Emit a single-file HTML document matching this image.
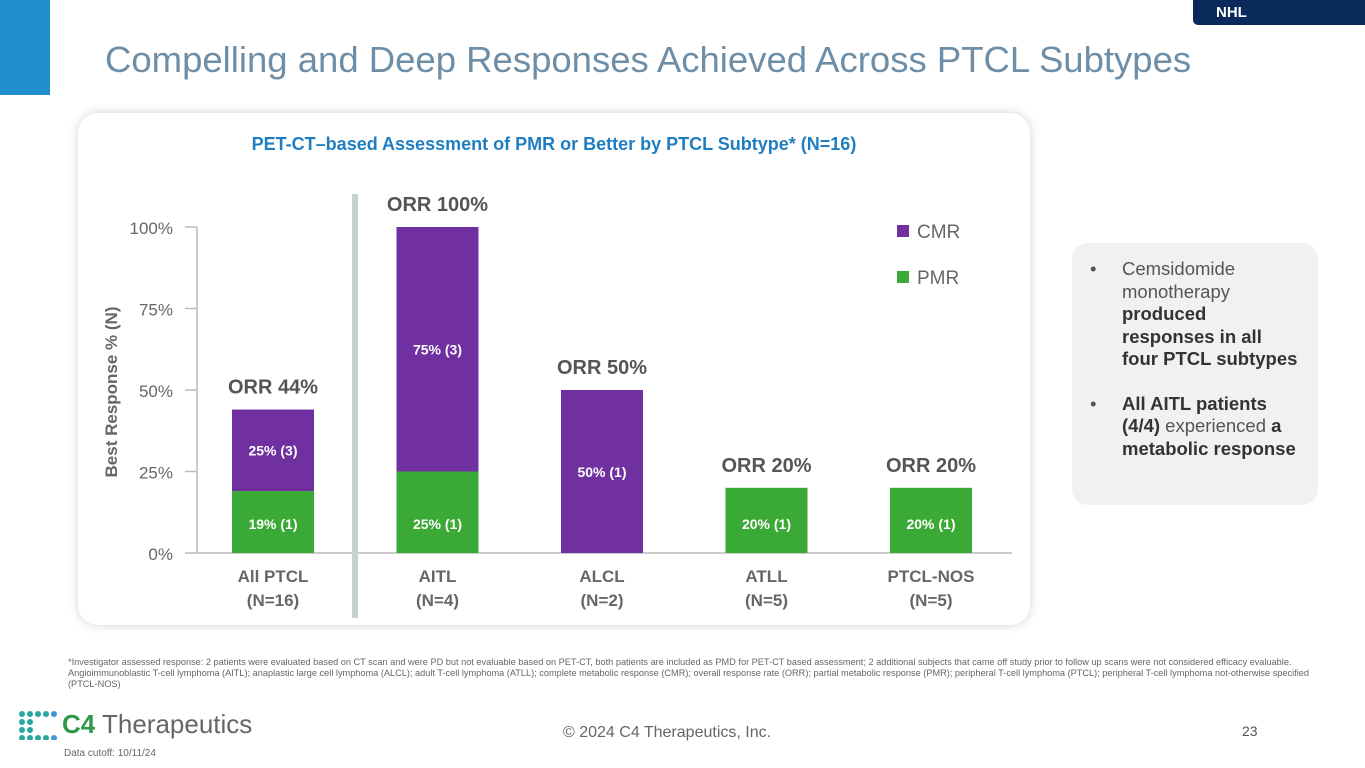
<!DOCTYPE html>
<html><head><meta charset="utf-8"><style>
body{margin:0;width:1365px;height:768px;position:relative;background:#fff;font-family:"Liberation Sans",sans-serif;overflow:hidden}
.abs{position:absolute}
</style></head><body>
<div class="abs" style="left:0;top:0;width:50px;height:95px;background:#1f8fd0"></div>
<div class="abs" style="left:1193px;top:0;width:172px;height:25px;background:#0b2a5c;border-radius:0 0 0 5px;color:#fff;font-weight:bold;font-size:15px;line-height:25px;padding-left:23px;box-sizing:border-box">NHL</div>
<div class="abs" style="left:105px;top:39px;font-size:36.5px;color:#6d8ea6;white-space:nowrap">Compelling and Deep Responses Achieved Across PTCL Subtypes</div>
<div class="abs" style="left:78px;top:113px;width:952px;height:512px;background:#fff;border-radius:20px;box-shadow:0 0 10px rgba(0,0,0,0.18)"></div>
<div class="abs" style="left:78px;top:134px;width:952px;text-align:center;font-size:18px;font-weight:bold;color:#1f7ec1">PET-CT–based Assessment of PMR or Better by PTCL Subtype* (N=16)</div>
<svg class="abs" style="left:0;top:0" width="1365" height="768" id="chart"></svg>
<div class="abs" style="left:1072px;top:243px;width:246px;height:262px;background:#f1f1f1;border-radius:16px"></div>
<div class="abs" style="left:1090px;top:258px;width:208px;font-size:18.5px;color:#555;line-height:22.5px">
<div style="display:flex"><span style="width:32px;flex:none">•</span><span>Cemsidomide monotherapy <b style="color:#333">produced responses in all four PTCL subtypes</b></span></div>
<div style="display:flex;margin-top:22px"><span style="width:32px;flex:none">•</span><span><b style="color:#333">All AITL patients (4/4)</b> experienced <b style="color:#333">a metabolic response</b></span></div>
</div>
<div class="abs" style="left:68px;top:657px;width:1265px;font-size:9.2px;color:#666;line-height:10.8px">*Investigator assessed response: 2 patients were evaluated based on CT scan and were PD but not evaluable based on PET-CT, both patients are included as PMD for PET-CT based assessment; 2 additional subjects that came off study prior to follow up scans were not considered efficacy evaluable.<br>Angioimmunoblastic T-cell lymphoma (AITL); anaplastic large cell lymphoma (ALCL); adult T-cell lymphoma (ATLL); complete metabolic response (CMR); overall response rate (ORR); partial metabolic response (PMR); peripheral T-cell lymphoma (PTCL); peripheral T-cell lymphoma not-otherwise specified (PTCL-NOS)</div>
<div class="abs" style="left:18px;top:709px;display:flex;align-items:center">
<svg width="42" height="30"><g fill="#2aa6a0"><circle cx="4" cy="4" r="3"/><circle cx="12" cy="4" r="3"/><circle cx="20" cy="4" r="3"/><circle cx="28" cy="4" r="3"/><circle cx="4" cy="12" r="3"/><circle cx="12" cy="12" r="3"/><circle cx="4" cy="20" r="3"/><circle cx="12" cy="20" r="3"/><circle cx="4" cy="28" r="3"/><circle cx="12" cy="28" r="3"/><circle cx="20" cy="28" r="3"/><circle cx="28" cy="28" r="3"/></g><g fill="#3a9ad6"><circle cx="36" cy="4" r="3"/><circle cx="36" cy="28" r="3"/></g></svg>
<span style="font-size:26px;color:#666;margin-left:2px"><b style="color:#2e9a48">C4</b> Therapeutics</span></div>
<div class="abs" style="left:64px;top:748px;font-size:10px;color:#666">Data cutoff: 10/11/24</div>
<div class="abs" style="left:563px;top:724px;font-size:16px;color:#666">© 2024 C4 Therapeutics, Inc.</div>
<div class="abs" style="left:1242px;top:723px;font-size:14px;color:#555">23</div>
<script>
const categories=["All PTCL","AITL","ALCL","ATLL","PTCL-NOS"];
const nLabels=["(N=16)","(N=4)","(N=2)","(N=5)","(N=5)"];
const pmr=[19,25,0,20,20];
const cmr=[25,75,50,0,0];
const pmrLabels=["19% (1)","25% (1)","","20% (1)","20% (1)"];
const cmrLabels=["25% (3)","75% (3)","50% (1)","",""];
const orr=["ORR 44%","ORR 100%","ORR 50%","ORR 20%","ORR 20%"];
const yTicks=[0,25,50,75,100];
const svg=document.getElementById('chart');const NS='http://www.w3.org/2000/svg';
function y(v){return 553-v*3.26;}
function xc(i){return 273+i*164.5;}
const BW=82;
function mk(t,a,txt){const e=document.createElementNS(NS,t);for(const k in a)e.setAttribute(k,a[k]);if(txt!==undefined)e.textContent=txt;svg.appendChild(e);return e;}
let e;
e=mk('line',{x1:197,y1:y(0),x2:1012,y2:y(0),stroke:'#bbb','stroke-width':1.5});


e=mk('line',{x1:197,y1:y(0),x2:197,y2:y(100),stroke:'#bbb','stroke-width':1.5});


yTicks.forEach(v=>{
 e=mk('line',{x1:185,y1:y(v),x2:197,y2:y(v),stroke:'#bbb','stroke-width':1.5});
 
 
 e=mk('text',{x:173,y:y(v)+7,'text-anchor':'end','font-size':17,fill:'#666'},v+'%');
 
 
});
e=mk('text',{x:0,y:0,transform:'translate(117,392) rotate(-90)','text-anchor':'middle','font-size':17,'font-weight':'bold',fill:'#666'},'Best Response % (N)');


e=mk('rect',{x:352,y:194,width:6,height:424,fill:'#c5d3d0'});


categories.forEach((c,i)=>{
 const cx=xc(i),x0=cx-BW/2;
 if(pmr[i]>0){
  e=mk('rect',{x:x0,y:y(pmr[i]),width:BW,height:y(0)-y(pmr[i]),fill:'#3aa935'});
  
  
 }
 if(cmr[i]>0){
  e=mk('rect',{x:x0,y:y(pmr[i]+cmr[i]),width:BW,height:y(pmr[i])-y(pmr[i]+cmr[i]),fill:'#7030a0'});
  
  
 }
 if(pmrLabels[i]){
  e=mk('text',{x:cx,y:y(0)-24,'text-anchor':'middle','font-size':14,'font-weight':'bold',fill:'#fff'},pmrLabels[i]);
  
  
 }
 if(cmrLabels[i]){
  e=mk('text',{x:cx,y:(pmr[i]===0?y(0)-76:(y(pmr[i])+y(pmr[i]+cmr[i]))/2+5),'text-anchor':'middle','font-size':14,'font-weight':'bold',fill:'#fff'},cmrLabels[i]);
  
  
 }
 e=mk('text',{x:cx,y:y(pmr[i]+cmr[i])-16,'text-anchor':'middle','font-size':20,'font-weight':'bold',fill:'#555'},orr[i]);
 
 
 e=mk('text',{x:cx,y:582,'text-anchor':'middle','font-size':17,'font-weight':'bold',fill:'#666'},c);
 
 
 e=mk('text',{x:cx,y:606,'text-anchor':'middle','font-size':17,'font-weight':'bold',fill:'#666'},nLabels[i]);
 
 
});
e=mk('rect',{x:897,y:225,width:12,height:12,fill:'#7030a0'});


e=mk('text',{x:917,y:238,'font-size':19,fill:'#666'},'CMR');


e=mk('rect',{x:897,y:271,width:12,height:12,fill:'#3aa935'});


e=mk('text',{x:917,y:284,'font-size':19,fill:'#666'},'PMR');


</script>
</body></html>
